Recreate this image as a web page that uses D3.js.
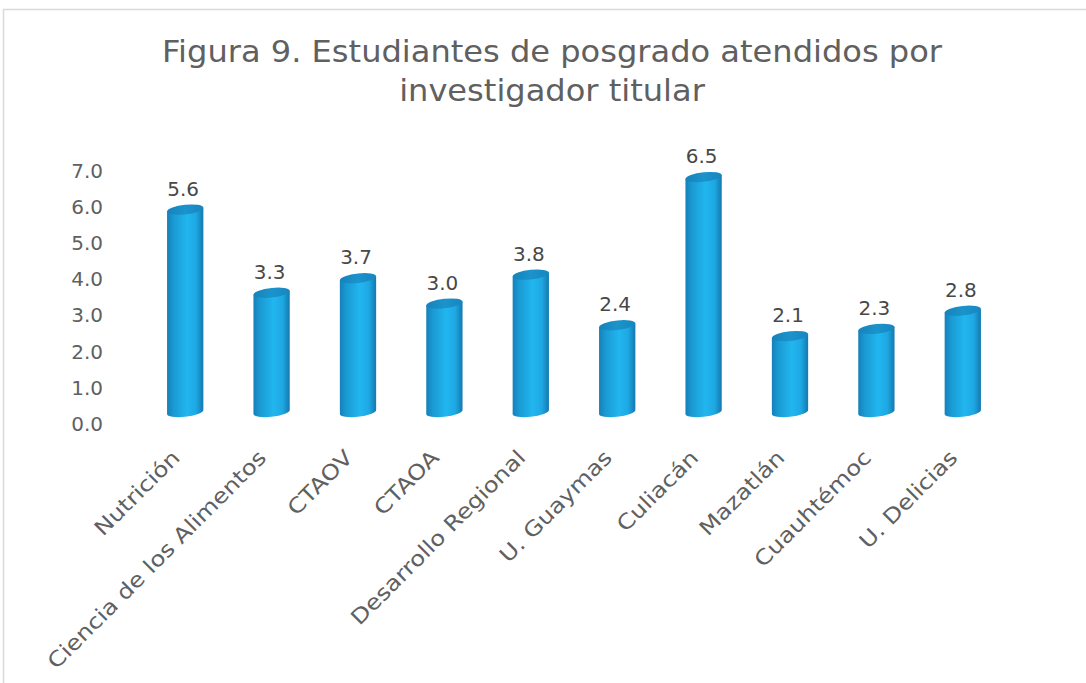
<!DOCTYPE html>
<html>
<head>
<meta charset="utf-8">
<script src="https://cdn.jsdelivr.net/npm/d3@7"></script>
<style>
  body { margin: 0; background: #fff; }
  svg { display: block; }
  text { font-family: "DejaVu Sans", sans-serif; }
</style>
</head>
<body>
<svg id="chart" width="1086" height="683"></svg>
<script>
// ── Data ──
const categories = ["Nutrición", "Ciencia de los Alimentos", "CTAOV", "CTAOA", "Desarrollo Regional",
  "U. Guaymas", "Culiacán", "Mazatlán", "Cuauhtémoc", "U. Delicias"];
const values = [5.6, 3.3, 3.7, 3.0, 3.8, 2.4, 6.5, 2.1, 2.3, 2.8];
const yTicks = [0, 1, 2, 3, 4, 5, 6, 7];
const titleLines = ["Figura 9. Estudiantes de posgrado atendidos por", "investigador titular"];

const W = 1086, H = 683;
const svg = d3.select("#chart");

// ── Frame ──
svg.append("rect")
  .attr("x", 3.5).attr("y", 9.5)
  .attr("width", W + 20).attr("height", H + 20)
  .attr("fill", "#fff")
  .attr("stroke", "#d9d9d9")
  .attr("stroke-width", 1.5);

// ── Gradients ──
const defs = svg.append("defs");
const body = defs.append("linearGradient").attr("id", "cylBody")
  .attr("x1", "0%").attr("x2", "100%").attr("y1", "0%").attr("y2", "0%");
[["0%", "#1580b9"], ["18%", "#1a9ad3"], ["55%", "#21b6ef"], ["80%", "#1ea8e3"], ["100%", "#1479af"]]
  .forEach(([o, c]) => body.append("stop").attr("offset", o).attr("stop-color", c));
const cap = defs.append("linearGradient").attr("id", "cylCap")
  .attr("x1", "0%").attr("x2", "100%").attr("y1", "0%").attr("y2", "0%");
[["0%", "#1682bb"], ["50%", "#1b93cc"], ["100%", "#1886bf"]]
  .forEach(([o, c]) => cap.append("stop").attr("offset", o).attr("stop-color", c));

// ── Scales ──
const x = d3.scaleBand()
  .domain(categories)
  .range([142, 1006])
  .paddingInner(0.58)
  .paddingOuter(0.29);

const y = d3.scaleLinear().domain([0, 7]).range([424, 171]);
const floorShift = 12; // 3D floor sits above the 0.0 label

// ── Title ── (stretched a little: the original face is wider than DejaVu)
svg.append("g").selectAll("text")
  .data(titleLines)
  .join("text")
  .attr("transform", (d, i) => `translate(552,${62 + i * 39}) scale(1.07,1)`)
  .attr("text-anchor", "middle")
  .attr("fill", "#606060")
  .style("font-size", "30px")
  .text(d => d);

// ── Y axis ──
const yAxis = svg.append("g")
  .attr("transform", "translate(110,0)")
  .call(d3.axisLeft(y).tickValues(yTicks).tickSize(0).tickPadding(7).tickFormat(d3.format(".1f")));
yAxis.select(".domain").remove();
yAxis.selectAll("text")
  .attr("fill", "#606060")
  .style("font-size", "20px")
  .style("font-family", "DejaVu Sans, sans-serif");

// ── Cylinders ──
const rx = x.bandwidth() / 2;
const ry = 4.8;
const bars = svg.append("g").selectAll("g")
  .data(values.map((v, i) => ({ cat: categories[i], v })))
  .join("g")
  .attr("transform", d => {
    const cx = x(d.cat) + rx;
    return `translate(${cx},0) skewY(-6)`;
  });

bars.append("path")
  .attr("fill", "url(#cylBody)")
  .attr("d", d => {
    const top = y(d.v) - floorShift;
    const bot = y(0) - floorShift;
    return `M${-rx},${top} L${-rx},${bot} A${rx},${ry} 0 0 0 ${rx},${bot} L${rx},${top} Z`;
  });

bars.append("ellipse")
  .attr("cx", 0)
  .attr("cy", d => y(d.v) - floorShift)
  .attr("rx", rx)
  .attr("ry", ry)
  .attr("fill", "url(#cylCap)");

// ── Value labels ──
svg.append("g").selectAll("text")
  .data(values.map((v, i) => ({ cat: categories[i], v })))
  .join("text")
  .attr("transform", d => `translate(${x(d.cat) + rx - 2},${y(d.v) - floorShift - 14}) scale(1.05,1)`)
  .attr("text-anchor", "middle")
  .attr("fill", "#484848")
  .style("font-size", "19px")
  .text(d => d3.format(".1f")(d.v));

// ── Category labels ──
svg.append("g").selectAll("text")
  .data(categories)
  .join("text")
  .attr("transform", d => `translate(${x(d) + rx - 4},459) rotate(-45) scale(1.16,1)`)
  .attr("text-anchor", "end")
  .attr("fill", "#606060")
  .style("font-size", "21px")
  .text(d => d);
</script>
</body>
</html>
